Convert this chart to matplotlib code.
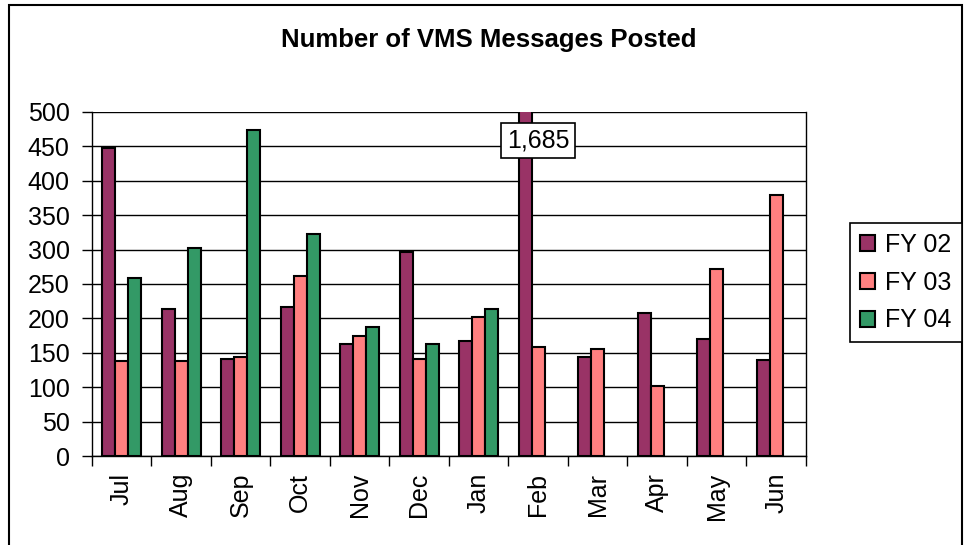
import numpy as np
import matplotlib.pyplot as plt
from matplotlib.patches import Rectangle

plt.rcParams['font.family'] = ['Liberation Sans', 'DejaVu Sans']

# Data
months = ['Jul', 'Aug', 'Sep', 'Oct', 'Nov', 'Dec', 'Jan', 'Feb', 'Mar', 'Apr', 'May', 'Jun']
fy02 = [447, 213, 141, 216, 163, 297, 167, 1685, 144, 208, 170, 139]
fy03 = [138, 138, 144, 261, 174, 141, 202, 158, 155, 102, 272, 380]
fy04 = [258, 302, 474, 322, 188, 163, 213]
series_names = ['FY 02', 'FY 03', 'FY 04']
colors = ['#993366', '#FF8080', '#339966']

fig = plt.figure(figsize=(9.65, 5.45), dpi=100)
ax = fig.add_axes([0.0953, 0.1633, 0.7399, 0.6312])

x = np.arange(len(months))
w = 0.22
for i, (vals, name, c) in enumerate(zip([fy02, fy03, fy04], series_names, colors)):
    xs = x[:len(vals)] + (i - 1) * w
    ax.bar(xs, vals, width=w, color=c, edgecolor='black', linewidth=1.5,
           label=name, zorder=3)

ax.set_ylim(0, 500)
ax.set_xlim(-0.5, len(months) - 0.5)
ax.set_yticks(np.arange(0, 501, 50))
ax.tick_params(axis='y', labelsize=18, length=7, width=1, pad=9, direction='out')
ax.yaxis.grid(True, color='black', linewidth=1, zorder=0)

# month labels at centers, tick marks between categories
ax.set_xticks(x)
ax.set_xticklabels(months, rotation=90, fontsize=18, va='top', ha='center')
ax.tick_params(axis='x', which='major', length=0, pad=12)
ax.set_xticks(np.arange(-0.5, len(months)), minor=True)
ax.tick_params(axis='x', which='minor', length=7, width=1, direction='out')

ax.spines['top'].set_visible(False)
for s in ax.spines.values():
    s.set_linewidth(1)
    s.set_color('black')

# value label for the clipped February bar
ax.text(7, 459, f"{fy02[7]:,}", fontsize=18, ha='center', va='center', zorder=5,
        bbox=dict(boxstyle='square,pad=0.22', facecolor='white', edgecolor='black', linewidth=1.2))

fig.text(0.506, 0.926, 'Number of VMS Messages Posted', fontsize=18.5, fontweight='bold',
         ha='center', va='center')

leg = fig.legend(loc='upper left', bbox_to_anchor=(0.881, 0.591), borderaxespad=0,
                 fontsize=18, frameon=True, fancybox=False, edgecolor='black', framealpha=1,
                 handlelength=0.6, handleheight=0.6, handletextpad=0.4,
                 labelspacing=0.55, borderpad=0.4)
leg.get_frame().set_linewidth(1.2)
for h in leg.legend_handles:
    h.set_linewidth(1.5)

# outer chart border
fig.add_artist(Rectangle((0.0093, -0.02), 0.9876, 1.0108, transform=fig.transFigure,
                         fill=False, edgecolor='black', linewidth=1.5, clip_on=False))

fig.savefig('out.png', dpi=100)
